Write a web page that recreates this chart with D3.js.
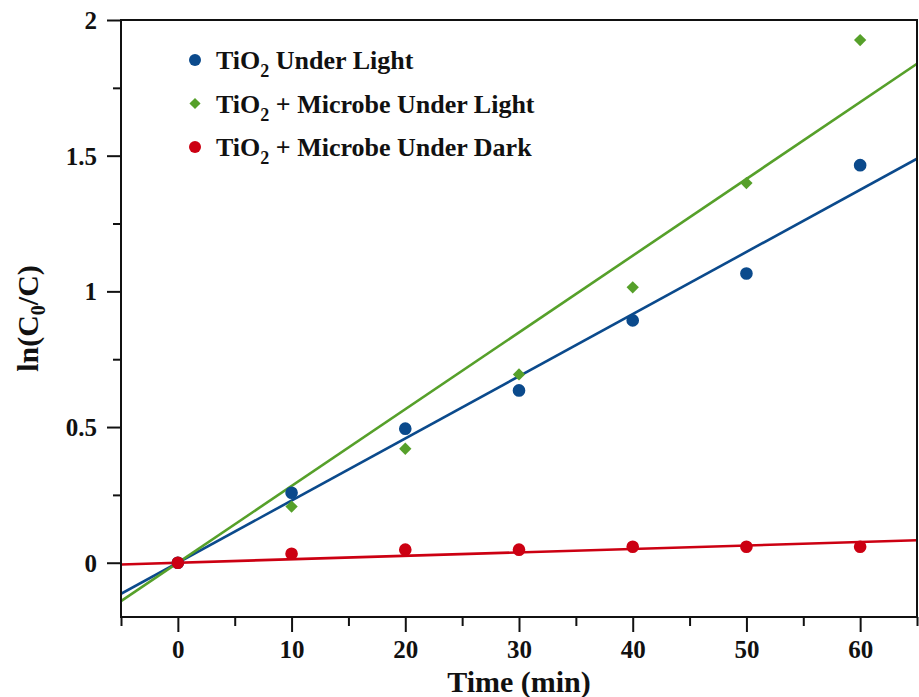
<!DOCTYPE html>
<html>
<head>
<meta charset="utf-8">
<script src="https://cdn.jsdelivr.net/npm/d3@7"></script>
<style>
  html, body { margin: 0; padding: 0; background: #fff; }
  svg { display: block; font-family: "Liberation Serif", "Times New Roman", serif; font-weight: bold; }
</style>
</head>
<body>
<svg id="chart" width="919" height="697"></svg>
<script>
// Sampling times (min)
const times = [0, 10, 20, 30, 40, 50, 60];

// ln(C0/C) for each condition
const tio2Light = [0, 0.258, 0.494, 0.635, 0.893, 1.066, 1.465];
const tio2MicrobeLight = [0, 0.207, 0.42, 0.694, 1.015, 1.399, 1.926];
const tio2MicrobeDark = [0, 0.033, 0.048, 0.048, 0.059, 0.059, 0.059];

const xTicks = [0, 10, 20, 30, 40, 50, 60];
const xMinorTicks = [-5, 5, 15, 25, 35, 45, 55, 65];
const yTicks = [0, 0.5, 1, 1.5, 2];
const yMinorTicks = [0.25, 0.75, 1.25, 1.75];

const series = [
  { name: "Under Light", values: tio2Light, color: "#0b4a8c", symbol: "circle" },
  { name: "+ Microbe Under Light", values: tio2MicrobeLight, color: "#56a02a", symbol: "diamond" },
  { name: "+ Microbe Under Dark", values: tio2MicrobeDark, color: "#cc0012", symbol: "circle" }
];

const svg = d3.select("#chart");
const m = { left: 121, right: 2, top: 20, bottom: 80 };
const W = 919, H = 697;

const x = d3.scaleLinear().domain([-5, 65]).range([m.left, W - m.right]);
const y = d3.scaleLinear().domain([-0.2, 2]).range([H - m.bottom, m.top]);

// Zero-intercept least-squares slope for each series
function slopeThroughOrigin(xs, ys) {
  let sxy = 0, sxx = 0;
  xs.forEach((v, i) => { sxy += v * ys[i]; sxx += v * v; });
  return sxy / sxx;
}

const plot = svg.append("g");
plot.append("clipPath").attr("id", "clip")
  .append("rect").attr("x", x(-5)).attr("y", y(2)).attr("width", x(65) - x(-5)).attr("height", y(-0.2) - y(2));

// Fit lines
series.forEach(s => {
  const k = slopeThroughOrigin(times, s.values);
  plot.append("line")
    .attr("clip-path", "url(#clip)")
    .attr("x1", x(-5)).attr("y1", y(k * -5))
    .attr("x2", x(65)).attr("y2", y(k * 65))
    .attr("stroke", s.color).attr("stroke-width", 2.6);
});

// Data markers
const circleSym = d3.symbol().type(d3.symbolCircle).size(Math.PI * 40);
const diamondSym = d3.symbol().type(d3.symbolSquare).size(76);
series.forEach(s => {
  plot.selectAll(null).data(times.map((t, i) => [t, s.values[i]])).enter()
    .append("path")
    .attr("d", s.symbol === "circle" ? circleSym() : diamondSym())
    .attr("transform", d => `translate(${x(d[0])},${y(d[1])})` + (s.symbol === "diamond" ? " rotate(45)" : ""))
    .attr("fill", s.color);
});

// Frame
svg.append("rect")
  .attr("x", x(-5)).attr("y", y(2))
  .attr("width", x(65) - x(-5)).attr("height", y(-0.2) - y(2))
  .attr("fill", "none").attr("stroke", "#111").attr("stroke-width", 2);

// Axes
const xAxis = svg.append("g").attr("transform", `translate(0,${y(-0.2)})`)
  .call(d3.axisBottom(x).tickValues(xTicks).tickSize(15).tickPadding(8).tickFormat(d3.format("d")));
const xMinor = svg.append("g").attr("transform", `translate(0,${y(-0.2)})`)
  .call(d3.axisBottom(x).tickValues(xMinorTicks).tickSize(9).tickFormat(""));
const yAxis = svg.append("g").attr("transform", `translate(${x(-5)},0)`)
  .call(d3.axisLeft(y).tickValues(yTicks).tickSize(14).tickPadding(10).tickFormat(d => String(d)));
const yMinor = svg.append("g").attr("transform", `translate(${x(-5)},0)`)
  .call(d3.axisLeft(y).tickValues(yMinorTicks).tickSize(8).tickFormat(""));

[xAxis, xMinor, yAxis, yMinor].forEach(g => {
  g.select(".domain").remove();
  g.selectAll(".tick line").attr("stroke", "#111").attr("stroke-width", 2);
  g.selectAll("text").attr("fill", "#111")
    .style("font-family", "'Liberation Serif', serif").style("font-weight", "bold").style("font-size", "25px");
});
yAxis.selectAll("text").attr("dy", "0.34em");
xAxis.selectAll("text").attr("dy", "0.72em");

// Axis titles
svg.append("text")
  .attr("x", 519).attr("y", 692)
  .attr("text-anchor", "middle")
  .style("font-size", "30px").attr("fill", "#111")
  .text("Time (min)");

const yt = svg.append("text")
  .attr("transform", `translate(38,${y(0.9)}) rotate(-90)`)
  .attr("text-anchor", "middle")
  .style("font-size", "30px").attr("fill", "#111");
yt.append("tspan").text("ln(C");
yt.append("tspan").attr("dy", 7).style("font-size", "20px").text("0");
yt.append("tspan").attr("dy", -7).text("/C)");

// Legend
const legend = svg.append("g");
series.forEach((s, i) => {
  const cy = 60 + i * 43.5;
  legend.append("path")
    .attr("d", s.symbol === "circle"
      ? d3.symbol().type(d3.symbolCircle).size(Math.PI * 36)()
      : d3.symbol().type(d3.symbolSquare).size(62)())
    .attr("transform", `translate(195,${cy})` + (s.symbol === "diamond" ? " rotate(45)" : ""))
    .attr("fill", s.color);
  const t = legend.append("text")
    .attr("x", 216).attr("y", cy + 9)
    .style("font-size", "26px").attr("fill", "#111");
  t.append("tspan").text("TiO");
  t.append("tspan").attr("dy", 8).style("font-size", "18px").text("2");
  t.append("tspan").attr("dy", -8).text(" " + s.name);
});
</script>
</body>
</html>
